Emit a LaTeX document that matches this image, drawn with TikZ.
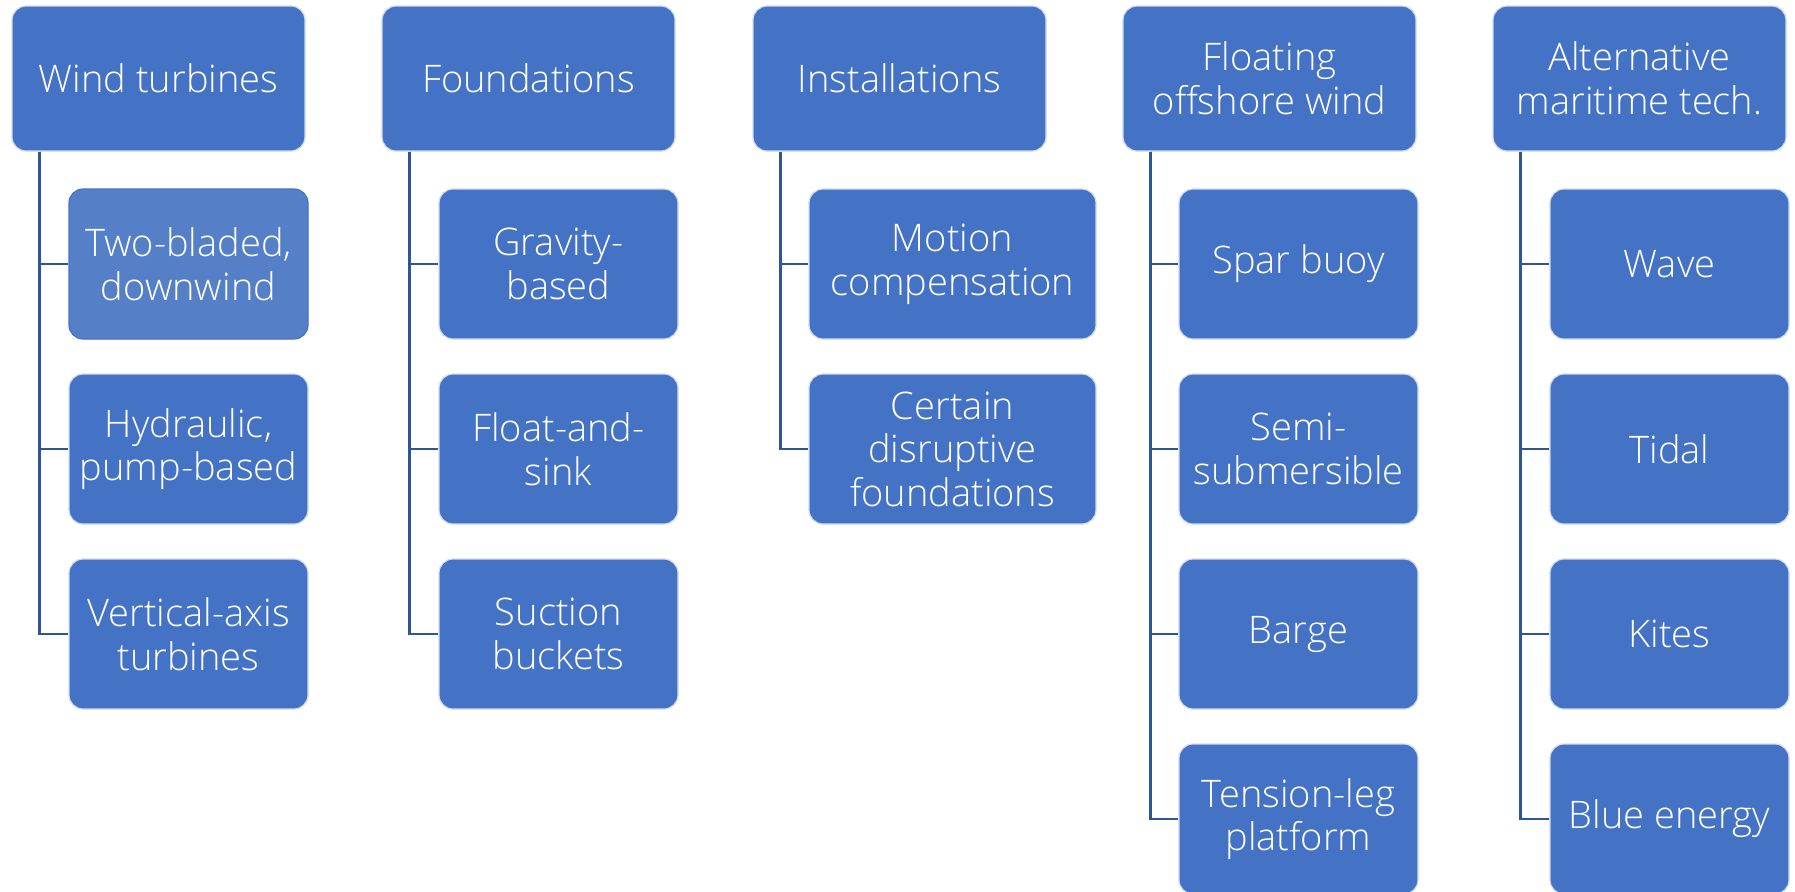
\documentclass[tikz,border=0pt]{standalone}
\usepackage{fontspec}
\setmainfont{Open Sans}[UprightFont={* Light}]
\definecolor{boxblue}{HTML}{4472C4}
\definecolor{paleblue}{HTML}{5580C8}
\definecolor{linkblue}{HTML}{2F5597}
\tikzset{
  topbox/.style={draw=white!75!boxblue, fill=boxblue, rounded corners=7pt, line width=0.6pt,
    minimum width=146.5pt, minimum height=72.5pt, inner sep=2pt,
    text=white, align=center, font=\fontsize{19}{21.8}\selectfont},
  subbox/.style={topbox, minimum width=119.5pt, minimum height=75pt},
  widebox/.style={subbox, minimum width=143.5pt},
  palebox/.style={subbox, fill=paleblue, draw=boxblue},
  link/.style={draw=linkblue, line width=1.1pt},
}
\begin{document}
\begin{tikzpicture}[x=0.5pt,y=-0.5pt]
  \useasboundingbox (0,0) rectangle (1795,891);
  % column heads
  \node[topbox] (wind)  at (158.5,78.5)  {Wind turbines};
  \node[topbox] (found) at (528.5,78.5)  {Foundations};
  \node[topbox] (inst)  at (899.5,78.5)  {Installations};
  \node[topbox] (float) at (1269.5,78.5) {Floating\\offshore wind};
  \node[topbox] (alt)   at (1639.5,78.5) {Alternative\\maritime tech.};
  % wind turbines
  \node[palebox] (wind1) at (188.5,264) {Two-bladed,\\downwind};
  \node[subbox]  (wind2) at (188.5,449) {Hydraulic,\\pump-based};
  \node[subbox]  (wind3) at (188.5,634) {Vertical-axis\\turbines};
  % foundations
  \node[subbox] (found1) at (558.5,264) {Gravity-\\based};
  \node[subbox] (found2) at (558.5,449) {Float-and-\\sink};
  \node[subbox] (found3) at (558.5,634) {Suction\\buckets};
  % installations
  \node[widebox] (inst1) at (952.5,264) {Motion\\compensation};
  \node[widebox] (inst2) at (952.5,449) {Certain\\disruptive\\foundations};
  % floating offshore wind
  \node[subbox] (float1) at (1298.5,264) {Spar buoy};
  \node[subbox] (float2) at (1298.5,449) {Semi-\\submersible};
  \node[subbox] (float3) at (1298.5,634) {Barge};
  \node[subbox] (float4) at (1298.5,819) {Tension-leg\\platform};
  % alternative maritime tech.
  \node[subbox] (alt1) at (1669.5,264) {Wave};
  \node[subbox] (alt2) at (1669.5,449) {Tidal};
  \node[subbox] (alt3) at (1669.5,634) {Kites};
  \node[subbox] (alt4) at (1669.5,819) {Blue energy};
  % connectors
  \foreach \head/\leaf in {wind/wind1,wind/wind2,wind/wind3,
      found/found1,found/found2,found/found3,
      inst/inst1,inst/inst2,
      float/float1,float/float2,float/float3,float/float4,
      alt/alt1,alt/alt2,alt/alt3,alt/alt4}
    \draw[link] ([xshift=14pt]\head.south west) |- (\leaf.west);
\end{tikzpicture}
\end{document}
